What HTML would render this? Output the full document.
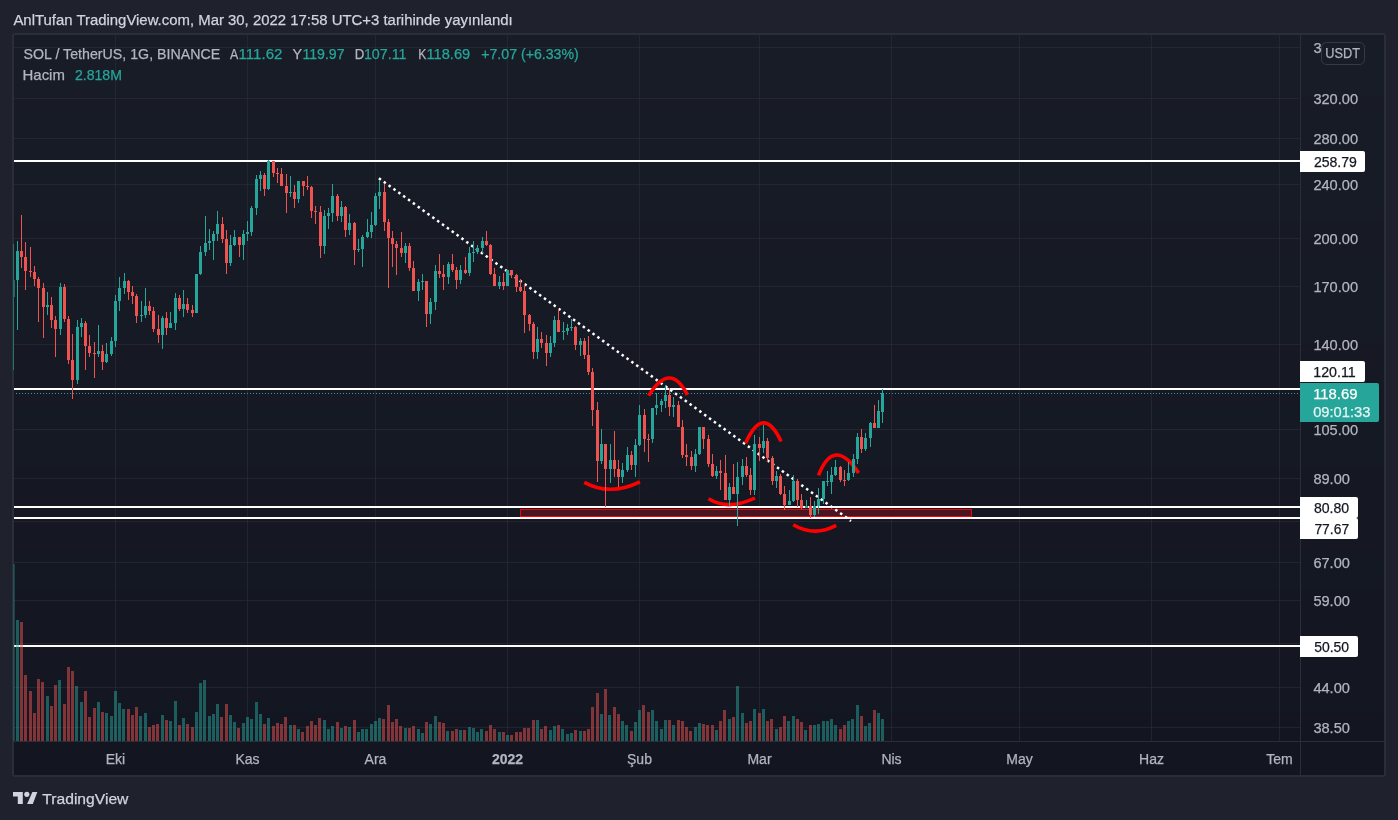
<!DOCTYPE html><html><head><meta charset="utf-8"><style>
html,body{margin:0;padding:0;width:1398px;height:820px;overflow:hidden;background:#1f222d}
svg{position:absolute;left:0;top:0;font-family:"Liberation Sans",sans-serif;will-change:transform}
text{stroke:currentColor;stroke-width:0.25px}
</style></head><body>
<svg width="1398" height="820" viewBox="0 0 1398 820">
<rect x="12" y="33" width="1374" height="744" rx="3" fill="#2a2e39"/>
<rect x="14" y="35" width="1370" height="53" fill="#181c27" shape-rendering="crispEdges"/>
<rect x="14" y="88" width="1370" height="9" fill="#181c26" shape-rendering="crispEdges"/>
<rect x="14" y="97" width="1370" height="12" fill="#181b26" shape-rendering="crispEdges"/>
<rect x="14" y="109" width="1370" height="85" fill="#171b26" shape-rendering="crispEdges"/>
<rect x="14" y="194" width="1370" height="26" fill="#171b25" shape-rendering="crispEdges"/>
<rect x="14" y="220" width="1370" height="37" fill="#171a25" shape-rendering="crispEdges"/>
<rect x="14" y="257" width="1370" height="42" fill="#161a25" shape-rendering="crispEdges"/>
<rect x="14" y="299" width="1370" height="44" fill="#161a24" shape-rendering="crispEdges"/>
<rect x="14" y="343" width="1370" height="62" fill="#161924" shape-rendering="crispEdges"/>
<rect x="14" y="405" width="1370" height="62" fill="#151923" shape-rendering="crispEdges"/>
<rect x="14" y="467" width="1370" height="44" fill="#151823" shape-rendering="crispEdges"/>
<rect x="14" y="511" width="1370" height="42" fill="#151822" shape-rendering="crispEdges"/>
<rect x="14" y="553" width="1370" height="37" fill="#141822" shape-rendering="crispEdges"/>
<rect x="14" y="590" width="1370" height="26" fill="#141722" shape-rendering="crispEdges"/>
<rect x="14" y="616" width="1370" height="85" fill="#141721" shape-rendering="crispEdges"/>
<rect x="14" y="701" width="1370" height="12" fill="#131721" shape-rendering="crispEdges"/>
<rect x="14" y="713" width="1370" height="9" fill="#131621" shape-rendering="crispEdges"/>
<rect x="14" y="722" width="1370" height="53" fill="#131620" shape-rendering="crispEdges"/>
<g shape-rendering="crispEdges">
<rect x="14" y="47" width="1286" height="1" fill="rgba(42,46,57,0.6)"/>
<rect x="14" y="98" width="1286" height="1" fill="rgba(42,46,57,0.6)"/>
<rect x="14" y="138" width="1286" height="1" fill="rgba(42,46,57,0.6)"/>
<rect x="14" y="184" width="1286" height="1" fill="rgba(42,46,57,0.6)"/>
<rect x="14" y="238" width="1286" height="1" fill="rgba(42,46,57,0.6)"/>
<rect x="14" y="286" width="1286" height="1" fill="rgba(42,46,57,0.6)"/>
<rect x="14" y="344" width="1286" height="1" fill="rgba(42,46,57,0.6)"/>
<rect x="14" y="389" width="1286" height="1" fill="rgba(42,46,57,0.6)"/>
<rect x="14" y="429" width="1286" height="1" fill="rgba(42,46,57,0.6)"/>
<rect x="14" y="478" width="1286" height="1" fill="rgba(42,46,57,0.6)"/>
<rect x="14" y="521" width="1286" height="1" fill="rgba(42,46,57,0.6)"/>
<rect x="14" y="562" width="1286" height="1" fill="rgba(42,46,57,0.6)"/>
<rect x="14" y="600" width="1286" height="1" fill="rgba(42,46,57,0.6)"/>
<rect x="14" y="643" width="1286" height="1" fill="rgba(42,46,57,0.6)"/>
<rect x="14" y="687" width="1286" height="1" fill="rgba(42,46,57,0.6)"/>
<rect x="14" y="727" width="1286" height="1" fill="rgba(42,46,57,0.6)"/>
<rect x="115" y="35" width="1" height="706" fill="rgba(42,46,57,0.6)"/>
<rect x="247" y="35" width="1" height="706" fill="rgba(42,46,57,0.6)"/>
<rect x="375" y="35" width="1" height="706" fill="rgba(42,46,57,0.6)"/>
<rect x="507" y="35" width="1" height="706" fill="rgba(42,46,57,0.6)"/>
<rect x="639" y="35" width="1" height="706" fill="rgba(42,46,57,0.6)"/>
<rect x="759" y="35" width="1" height="706" fill="rgba(42,46,57,0.6)"/>
<rect x="891" y="35" width="1" height="706" fill="rgba(42,46,57,0.6)"/>
<rect x="1019" y="35" width="1" height="706" fill="rgba(42,46,57,0.6)"/>
<rect x="1151" y="35" width="1" height="706" fill="rgba(42,46,57,0.6)"/>
<rect x="1279" y="35" width="1" height="706" fill="rgba(42,46,57,0.6)"/>
<rect x="1300" y="35" width="1" height="740" fill="#2a2e39"/>
<rect x="14" y="741" width="1370" height="1" fill="#2a2e39"/>
</g>
<defs><clipPath id="cp"><rect x="13" y="35" width="1287" height="706"/></clipPath><clipPath id="cp2"><rect x="14" y="35" width="1286" height="706"/></clipPath></defs>
<g clip-path="url(#cp2)">
<g shape-rendering="crispEdges">
<rect x="13" y="160" width="1287" height="2" fill="#ffffff"/>
<rect x="13" y="388" width="1287" height="2" fill="#ffffff"/>
<rect x="13" y="506" width="1287" height="2" fill="#ffffff"/>
<rect x="13" y="517" width="1287" height="2" fill="#ffffff"/>
<rect x="13" y="645" width="1287" height="2" fill="#ffffff"/>
<line x1="13" y1="393.5" x2="1300" y2="393.5" stroke="#26a69a" stroke-width="1" stroke-dasharray="1 2"/>
<rect x="520.5" y="509.5" width="451" height="7" fill="#4a1520" stroke="#ff0000" stroke-width="1"/>
</g>
<line x1="378.9" y1="178.2" x2="851" y2="521" stroke="#ffffff" stroke-width="2.5" stroke-dasharray="2.5 3.5"/>
<path d="M584.3 482.4 Q609.9 496.5 639.9 481.8" fill="none" stroke="#ff0000" stroke-width="3.6"/>
<path d="M648.7 395.6 Q670.2 360.8 687.4 394.9" fill="none" stroke="#ff0000" stroke-width="3.6"/>
<path d="M708.5 498.8 Q728.2 510.8 755.0 498.0" fill="none" stroke="#ff0000" stroke-width="3.6"/>
<path d="M745.7 442.9 Q763.2 403.6 781.1 441.4" fill="none" stroke="#ff0000" stroke-width="3.6"/>
<path d="M793.3 524.7 Q814.0 537.2 836.2 525.4" fill="none" stroke="#ff0000" stroke-width="3.6"/>
<path d="M818.5 475.4 Q833.9 435.9 858.6 472.9" fill="none" stroke="#ff0000" stroke-width="3.6"/>
</g>
<g clip-path="url(#cp)" shape-rendering="crispEdges">
<rect x="12" y="564" width="3" height="177" fill="rgba(38,166,154,0.5)" opacity="0.6"/>
<rect x="16" y="620" width="3" height="121" fill="rgba(38,166,154,0.5)"/>
<rect x="20" y="622" width="3" height="119" fill="rgba(239,83,80,0.5)"/>
<rect x="24" y="675" width="3" height="66" fill="rgba(239,83,80,0.5)"/>
<rect x="29" y="691" width="3" height="50" fill="rgba(239,83,80,0.5)"/>
<rect x="33" y="713" width="3" height="28" fill="rgba(239,83,80,0.5)"/>
<rect x="37" y="679" width="3" height="62" fill="rgba(239,83,80,0.5)"/>
<rect x="41" y="682" width="3" height="59" fill="rgba(239,83,80,0.5)"/>
<rect x="46" y="696" width="3" height="45" fill="rgba(38,166,154,0.5)"/>
<rect x="50" y="706" width="3" height="35" fill="rgba(239,83,80,0.5)"/>
<rect x="54" y="685" width="3" height="56" fill="rgba(239,83,80,0.5)"/>
<rect x="58" y="680" width="3" height="61" fill="rgba(38,166,154,0.5)"/>
<rect x="63" y="704" width="3" height="37" fill="rgba(239,83,80,0.5)"/>
<rect x="67" y="667" width="3" height="74" fill="rgba(239,83,80,0.5)"/>
<rect x="71" y="671" width="3" height="70" fill="rgba(239,83,80,0.5)"/>
<rect x="75" y="686" width="3" height="55" fill="rgba(38,166,154,0.5)"/>
<rect x="80" y="702" width="3" height="39" fill="rgba(38,166,154,0.5)"/>
<rect x="84" y="691" width="3" height="50" fill="rgba(239,83,80,0.5)"/>
<rect x="88" y="717" width="3" height="24" fill="rgba(239,83,80,0.5)"/>
<rect x="93" y="708" width="3" height="33" fill="rgba(239,83,80,0.5)"/>
<rect x="97" y="702" width="3" height="39" fill="rgba(38,166,154,0.5)"/>
<rect x="101" y="712" width="3" height="29" fill="rgba(239,83,80,0.5)"/>
<rect x="105" y="713" width="3" height="28" fill="rgba(38,166,154,0.5)"/>
<rect x="110" y="716" width="3" height="25" fill="rgba(38,166,154,0.5)"/>
<rect x="114" y="691" width="3" height="50" fill="rgba(38,166,154,0.5)"/>
<rect x="118" y="703" width="3" height="38" fill="rgba(38,166,154,0.5)"/>
<rect x="122" y="709" width="3" height="32" fill="rgba(38,166,154,0.5)"/>
<rect x="127" y="709" width="3" height="32" fill="rgba(239,83,80,0.5)"/>
<rect x="131" y="715" width="3" height="26" fill="rgba(239,83,80,0.5)"/>
<rect x="135" y="707" width="3" height="34" fill="rgba(239,83,80,0.5)"/>
<rect x="139" y="716" width="3" height="25" fill="rgba(38,166,154,0.5)"/>
<rect x="144" y="713" width="3" height="28" fill="rgba(38,166,154,0.5)"/>
<rect x="148" y="727" width="3" height="14" fill="rgba(239,83,80,0.5)"/>
<rect x="152" y="725" width="3" height="16" fill="rgba(239,83,80,0.5)"/>
<rect x="156" y="724" width="3" height="17" fill="rgba(239,83,80,0.5)"/>
<rect x="161" y="715" width="3" height="26" fill="rgba(38,166,154,0.5)"/>
<rect x="165" y="720" width="3" height="21" fill="rgba(239,83,80,0.5)"/>
<rect x="169" y="721" width="3" height="20" fill="rgba(38,166,154,0.5)"/>
<rect x="174" y="701" width="3" height="40" fill="rgba(38,166,154,0.5)"/>
<rect x="178" y="725" width="3" height="16" fill="rgba(239,83,80,0.5)"/>
<rect x="182" y="718" width="3" height="23" fill="rgba(38,166,154,0.5)"/>
<rect x="186" y="724" width="3" height="17" fill="rgba(239,83,80,0.5)"/>
<rect x="191" y="727" width="3" height="14" fill="rgba(239,83,80,0.5)"/>
<rect x="195" y="712" width="3" height="29" fill="rgba(38,166,154,0.5)"/>
<rect x="199" y="683" width="3" height="58" fill="rgba(38,166,154,0.5)"/>
<rect x="203" y="680" width="3" height="61" fill="rgba(38,166,154,0.5)"/>
<rect x="208" y="716" width="3" height="25" fill="rgba(38,166,154,0.5)"/>
<rect x="212" y="714" width="3" height="27" fill="rgba(38,166,154,0.5)"/>
<rect x="216" y="704" width="3" height="37" fill="rgba(38,166,154,0.5)"/>
<rect x="220" y="717" width="3" height="24" fill="rgba(239,83,80,0.5)"/>
<rect x="225" y="704" width="3" height="37" fill="rgba(239,83,80,0.5)"/>
<rect x="229" y="715" width="3" height="26" fill="rgba(38,166,154,0.5)"/>
<rect x="233" y="722" width="3" height="19" fill="rgba(38,166,154,0.5)"/>
<rect x="237" y="728" width="3" height="13" fill="rgba(239,83,80,0.5)"/>
<rect x="242" y="723" width="3" height="18" fill="rgba(38,166,154,0.5)"/>
<rect x="246" y="717" width="3" height="24" fill="rgba(38,166,154,0.5)"/>
<rect x="250" y="719" width="3" height="22" fill="rgba(38,166,154,0.5)"/>
<rect x="255" y="702" width="3" height="39" fill="rgba(38,166,154,0.5)"/>
<rect x="259" y="714" width="3" height="27" fill="rgba(38,166,154,0.5)"/>
<rect x="263" y="724" width="3" height="17" fill="rgba(239,83,80,0.5)"/>
<rect x="267" y="718" width="3" height="23" fill="rgba(38,166,154,0.5)"/>
<rect x="272" y="726" width="3" height="15" fill="rgba(239,83,80,0.5)"/>
<rect x="276" y="723" width="3" height="18" fill="rgba(239,83,80,0.5)"/>
<rect x="280" y="724" width="3" height="17" fill="rgba(239,83,80,0.5)"/>
<rect x="284" y="717" width="3" height="24" fill="rgba(239,83,80,0.5)"/>
<rect x="289" y="725" width="3" height="16" fill="rgba(38,166,154,0.5)"/>
<rect x="293" y="725" width="3" height="16" fill="rgba(239,83,80,0.5)"/>
<rect x="297" y="729" width="3" height="12" fill="rgba(38,166,154,0.5)"/>
<rect x="301" y="732" width="3" height="9" fill="rgba(239,83,80,0.5)"/>
<rect x="306" y="726" width="3" height="15" fill="rgba(239,83,80,0.5)"/>
<rect x="310" y="721" width="3" height="20" fill="rgba(239,83,80,0.5)"/>
<rect x="314" y="725" width="3" height="16" fill="rgba(239,83,80,0.5)"/>
<rect x="318" y="718" width="3" height="23" fill="rgba(239,83,80,0.5)"/>
<rect x="323" y="720" width="3" height="21" fill="rgba(38,166,154,0.5)"/>
<rect x="327" y="729" width="3" height="12" fill="rgba(38,166,154,0.5)"/>
<rect x="331" y="726" width="3" height="15" fill="rgba(38,166,154,0.5)"/>
<rect x="336" y="722" width="3" height="19" fill="rgba(239,83,80,0.5)"/>
<rect x="340" y="728" width="3" height="13" fill="rgba(38,166,154,0.5)"/>
<rect x="344" y="726" width="3" height="15" fill="rgba(239,83,80,0.5)"/>
<rect x="348" y="727" width="3" height="14" fill="rgba(38,166,154,0.5)"/>
<rect x="353" y="720" width="3" height="21" fill="rgba(239,83,80,0.5)"/>
<rect x="357" y="732" width="3" height="9" fill="rgba(38,166,154,0.5)"/>
<rect x="361" y="729" width="3" height="12" fill="rgba(38,166,154,0.5)"/>
<rect x="365" y="729" width="3" height="12" fill="rgba(38,166,154,0.5)"/>
<rect x="370" y="724" width="3" height="17" fill="rgba(38,166,154,0.5)"/>
<rect x="374" y="721" width="3" height="20" fill="rgba(38,166,154,0.5)"/>
<rect x="378" y="718" width="3" height="23" fill="rgba(38,166,154,0.5)"/>
<rect x="382" y="719" width="3" height="22" fill="rgba(239,83,80,0.5)"/>
<rect x="387" y="705" width="3" height="36" fill="rgba(239,83,80,0.5)"/>
<rect x="391" y="722" width="3" height="19" fill="rgba(239,83,80,0.5)"/>
<rect x="395" y="719" width="3" height="22" fill="rgba(239,83,80,0.5)"/>
<rect x="399" y="726" width="3" height="15" fill="rgba(239,83,80,0.5)"/>
<rect x="404" y="728" width="3" height="13" fill="rgba(38,166,154,0.5)"/>
<rect x="408" y="728" width="3" height="13" fill="rgba(239,83,80,0.5)"/>
<rect x="412" y="726" width="3" height="15" fill="rgba(239,83,80,0.5)"/>
<rect x="417" y="729" width="3" height="12" fill="rgba(38,166,154,0.5)"/>
<rect x="421" y="733" width="3" height="8" fill="rgba(38,166,154,0.5)"/>
<rect x="425" y="722" width="3" height="19" fill="rgba(239,83,80,0.5)"/>
<rect x="429" y="724" width="3" height="17" fill="rgba(38,166,154,0.5)"/>
<rect x="434" y="716" width="3" height="25" fill="rgba(38,166,154,0.5)"/>
<rect x="438" y="722" width="3" height="19" fill="rgba(239,83,80,0.5)"/>
<rect x="442" y="723" width="3" height="18" fill="rgba(239,83,80,0.5)"/>
<rect x="446" y="731" width="3" height="10" fill="rgba(38,166,154,0.5)"/>
<rect x="451" y="731" width="3" height="10" fill="rgba(239,83,80,0.5)"/>
<rect x="455" y="729" width="3" height="12" fill="rgba(239,83,80,0.5)"/>
<rect x="459" y="730" width="3" height="11" fill="rgba(38,166,154,0.5)"/>
<rect x="463" y="730" width="3" height="11" fill="rgba(239,83,80,0.5)"/>
<rect x="468" y="727" width="3" height="14" fill="rgba(38,166,154,0.5)"/>
<rect x="472" y="728" width="3" height="13" fill="rgba(38,166,154,0.5)"/>
<rect x="476" y="732" width="3" height="9" fill="rgba(38,166,154,0.5)"/>
<rect x="480" y="729" width="3" height="12" fill="rgba(38,166,154,0.5)"/>
<rect x="485" y="731" width="3" height="10" fill="rgba(239,83,80,0.5)"/>
<rect x="489" y="725" width="3" height="16" fill="rgba(239,83,80,0.5)"/>
<rect x="493" y="729" width="3" height="12" fill="rgba(239,83,80,0.5)"/>
<rect x="498" y="732" width="3" height="9" fill="rgba(38,166,154,0.5)"/>
<rect x="502" y="732" width="3" height="9" fill="rgba(239,83,80,0.5)"/>
<rect x="506" y="735" width="3" height="6" fill="rgba(38,166,154,0.5)"/>
<rect x="510" y="735" width="3" height="6" fill="rgba(239,83,80,0.5)"/>
<rect x="515" y="732" width="3" height="9" fill="rgba(239,83,80,0.5)"/>
<rect x="519" y="732" width="3" height="9" fill="rgba(239,83,80,0.5)"/>
<rect x="523" y="728" width="3" height="13" fill="rgba(239,83,80,0.5)"/>
<rect x="527" y="728" width="3" height="13" fill="rgba(239,83,80,0.5)"/>
<rect x="532" y="720" width="3" height="21" fill="rgba(239,83,80,0.5)"/>
<rect x="536" y="720" width="3" height="21" fill="rgba(38,166,154,0.5)"/>
<rect x="540" y="729" width="3" height="12" fill="rgba(239,83,80,0.5)"/>
<rect x="544" y="726" width="3" height="15" fill="rgba(239,83,80,0.5)"/>
<rect x="549" y="730" width="3" height="11" fill="rgba(38,166,154,0.5)"/>
<rect x="553" y="726" width="3" height="15" fill="rgba(38,166,154,0.5)"/>
<rect x="557" y="725" width="3" height="16" fill="rgba(239,83,80,0.5)"/>
<rect x="561" y="729" width="3" height="12" fill="rgba(38,166,154,0.5)"/>
<rect x="566" y="734" width="3" height="7" fill="rgba(38,166,154,0.5)"/>
<rect x="570" y="733" width="3" height="8" fill="rgba(38,166,154,0.5)"/>
<rect x="574" y="730" width="3" height="11" fill="rgba(239,83,80,0.5)"/>
<rect x="579" y="731" width="3" height="10" fill="rgba(38,166,154,0.5)"/>
<rect x="583" y="731" width="3" height="10" fill="rgba(239,83,80,0.5)"/>
<rect x="587" y="729" width="3" height="12" fill="rgba(239,83,80,0.5)"/>
<rect x="591" y="707" width="3" height="34" fill="rgba(239,83,80,0.5)"/>
<rect x="596" y="693" width="3" height="48" fill="rgba(239,83,80,0.5)"/>
<rect x="600" y="714" width="3" height="27" fill="rgba(38,166,154,0.5)"/>
<rect x="604" y="689" width="3" height="52" fill="rgba(239,83,80,0.5)"/>
<rect x="608" y="715" width="3" height="26" fill="rgba(38,166,154,0.5)"/>
<rect x="613" y="707" width="3" height="34" fill="rgba(239,83,80,0.5)"/>
<rect x="617" y="714" width="3" height="27" fill="rgba(239,83,80,0.5)"/>
<rect x="621" y="721" width="3" height="20" fill="rgba(38,166,154,0.5)"/>
<rect x="625" y="725" width="3" height="16" fill="rgba(38,166,154,0.5)"/>
<rect x="630" y="731" width="3" height="10" fill="rgba(239,83,80,0.5)"/>
<rect x="634" y="722" width="3" height="19" fill="rgba(38,166,154,0.5)"/>
<rect x="638" y="710" width="3" height="31" fill="rgba(38,166,154,0.5)"/>
<rect x="642" y="705" width="3" height="36" fill="rgba(239,83,80,0.5)"/>
<rect x="647" y="712" width="3" height="29" fill="rgba(239,83,80,0.5)"/>
<rect x="651" y="710" width="3" height="31" fill="rgba(38,166,154,0.5)"/>
<rect x="655" y="721" width="3" height="20" fill="rgba(38,166,154,0.5)"/>
<rect x="660" y="729" width="3" height="12" fill="rgba(38,166,154,0.5)"/>
<rect x="664" y="720" width="3" height="21" fill="rgba(38,166,154,0.5)"/>
<rect x="668" y="720" width="3" height="21" fill="rgba(239,83,80,0.5)"/>
<rect x="672" y="725" width="3" height="16" fill="rgba(38,166,154,0.5)"/>
<rect x="677" y="720" width="3" height="21" fill="rgba(239,83,80,0.5)"/>
<rect x="681" y="721" width="3" height="20" fill="rgba(239,83,80,0.5)"/>
<rect x="685" y="727" width="3" height="14" fill="rgba(239,83,80,0.5)"/>
<rect x="689" y="731" width="3" height="10" fill="rgba(239,83,80,0.5)"/>
<rect x="694" y="727" width="3" height="14" fill="rgba(38,166,154,0.5)"/>
<rect x="698" y="723" width="3" height="18" fill="rgba(38,166,154,0.5)"/>
<rect x="702" y="724" width="3" height="17" fill="rgba(239,83,80,0.5)"/>
<rect x="706" y="725" width="3" height="16" fill="rgba(239,83,80,0.5)"/>
<rect x="711" y="725" width="3" height="16" fill="rgba(239,83,80,0.5)"/>
<rect x="715" y="730" width="3" height="11" fill="rgba(38,166,154,0.5)"/>
<rect x="719" y="721" width="3" height="20" fill="rgba(239,83,80,0.5)"/>
<rect x="723" y="710" width="3" height="31" fill="rgba(239,83,80,0.5)"/>
<rect x="728" y="719" width="3" height="22" fill="rgba(38,166,154,0.5)"/>
<rect x="732" y="717" width="3" height="24" fill="rgba(239,83,80,0.5)"/>
<rect x="736" y="686" width="3" height="55" fill="rgba(38,166,154,0.5)"/>
<rect x="741" y="713" width="3" height="28" fill="rgba(38,166,154,0.5)"/>
<rect x="745" y="723" width="3" height="18" fill="rgba(239,83,80,0.5)"/>
<rect x="749" y="721" width="3" height="20" fill="rgba(239,83,80,0.5)"/>
<rect x="753" y="709" width="3" height="32" fill="rgba(38,166,154,0.5)"/>
<rect x="758" y="713" width="3" height="28" fill="rgba(239,83,80,0.5)"/>
<rect x="762" y="709" width="3" height="32" fill="rgba(38,166,154,0.5)"/>
<rect x="766" y="721" width="3" height="20" fill="rgba(239,83,80,0.5)"/>
<rect x="770" y="719" width="3" height="22" fill="rgba(239,83,80,0.5)"/>
<rect x="775" y="729" width="3" height="12" fill="rgba(38,166,154,0.5)"/>
<rect x="779" y="727" width="3" height="14" fill="rgba(239,83,80,0.5)"/>
<rect x="783" y="716" width="3" height="25" fill="rgba(239,83,80,0.5)"/>
<rect x="787" y="721" width="3" height="20" fill="rgba(38,166,154,0.5)"/>
<rect x="792" y="716" width="3" height="25" fill="rgba(38,166,154,0.5)"/>
<rect x="796" y="719" width="3" height="22" fill="rgba(239,83,80,0.5)"/>
<rect x="800" y="722" width="3" height="19" fill="rgba(239,83,80,0.5)"/>
<rect x="804" y="730" width="3" height="11" fill="rgba(38,166,154,0.5)"/>
<rect x="809" y="725" width="3" height="16" fill="rgba(239,83,80,0.5)"/>
<rect x="813" y="725" width="3" height="16" fill="rgba(38,166,154,0.5)"/>
<rect x="817" y="724" width="3" height="17" fill="rgba(38,166,154,0.5)"/>
<rect x="822" y="721" width="3" height="20" fill="rgba(38,166,154,0.5)"/>
<rect x="826" y="721" width="3" height="20" fill="rgba(38,166,154,0.5)"/>
<rect x="830" y="719" width="3" height="22" fill="rgba(38,166,154,0.5)"/>
<rect x="834" y="725" width="3" height="16" fill="rgba(38,166,154,0.5)"/>
<rect x="839" y="729" width="3" height="12" fill="rgba(239,83,80,0.5)"/>
<rect x="843" y="725" width="3" height="16" fill="rgba(239,83,80,0.5)"/>
<rect x="847" y="721" width="3" height="20" fill="rgba(38,166,154,0.5)"/>
<rect x="851" y="719" width="3" height="22" fill="rgba(38,166,154,0.5)"/>
<rect x="856" y="705" width="3" height="36" fill="rgba(38,166,154,0.5)"/>
<rect x="860" y="716" width="3" height="25" fill="rgba(239,83,80,0.5)"/>
<rect x="864" y="726" width="3" height="15" fill="rgba(38,166,154,0.5)"/>
<rect x="868" y="723" width="3" height="18" fill="rgba(38,166,154,0.5)"/>
<rect x="873" y="710" width="3" height="31" fill="rgba(239,83,80,0.5)"/>
<rect x="877" y="713" width="3" height="28" fill="rgba(38,166,154,0.5)"/>
<rect x="881" y="719" width="3" height="22" fill="rgba(38,166,154,0.5)"/>
<g opacity="0.55">
<rect x="13" y="244" width="1" height="126" fill="#26a69a"/>
<rect x="12" y="280" width="3" height="17" fill="#26a69a"/>
</g>
<rect x="17" y="241" width="1" height="89" fill="#26a69a"/>
<rect x="16" y="251" width="3" height="29" fill="#26a69a"/>
<rect x="21" y="215" width="1" height="53" fill="#ef5350"/>
<rect x="20" y="251" width="3" height="6" fill="#ef5350"/>
<rect x="25" y="242" width="1" height="48" fill="#ef5350"/>
<rect x="24" y="257" width="3" height="14" fill="#ef5350"/>
<rect x="30" y="247" width="1" height="30" fill="#ef5350"/>
<rect x="29" y="271" width="3" height="1" fill="#ef5350"/>
<rect x="34" y="266" width="1" height="20" fill="#ef5350"/>
<rect x="33" y="272" width="3" height="7" fill="#ef5350"/>
<rect x="38" y="277" width="1" height="45" fill="#ef5350"/>
<rect x="37" y="279" width="3" height="9" fill="#ef5350"/>
<rect x="43" y="283" width="1" height="55" fill="#ef5350"/>
<rect x="42" y="288" width="3" height="19" fill="#ef5350"/>
<rect x="47" y="292" width="1" height="23" fill="#26a69a"/>
<rect x="46" y="305" width="3" height="2" fill="#26a69a"/>
<rect x="51" y="297" width="1" height="31" fill="#ef5350"/>
<rect x="50" y="305" width="3" height="15" fill="#ef5350"/>
<rect x="55" y="316" width="1" height="41" fill="#ef5350"/>
<rect x="54" y="320" width="3" height="9" fill="#ef5350"/>
<rect x="60" y="283" width="1" height="52" fill="#26a69a"/>
<rect x="59" y="287" width="3" height="42" fill="#26a69a"/>
<rect x="64" y="284" width="1" height="38" fill="#ef5350"/>
<rect x="63" y="287" width="3" height="32" fill="#ef5350"/>
<rect x="68" y="316" width="1" height="48" fill="#ef5350"/>
<rect x="67" y="319" width="3" height="41" fill="#ef5350"/>
<rect x="72" y="334" width="1" height="65" fill="#ef5350"/>
<rect x="71" y="360" width="3" height="20" fill="#ef5350"/>
<rect x="77" y="320" width="1" height="64" fill="#26a69a"/>
<rect x="76" y="327" width="3" height="53" fill="#26a69a"/>
<rect x="81" y="318" width="1" height="19" fill="#26a69a"/>
<rect x="80" y="323" width="3" height="4" fill="#26a69a"/>
<rect x="85" y="321" width="1" height="49" fill="#ef5350"/>
<rect x="84" y="323" width="3" height="23" fill="#ef5350"/>
<rect x="89" y="335" width="1" height="22" fill="#ef5350"/>
<rect x="88" y="346" width="3" height="7" fill="#ef5350"/>
<rect x="94" y="342" width="1" height="36" fill="#ef5350"/>
<rect x="93" y="353" width="3" height="1" fill="#ef5350"/>
<rect x="98" y="325" width="1" height="32" fill="#26a69a"/>
<rect x="97" y="351" width="3" height="3" fill="#26a69a"/>
<rect x="102" y="345" width="1" height="25" fill="#ef5350"/>
<rect x="101" y="351" width="3" height="11" fill="#ef5350"/>
<rect x="106" y="343" width="1" height="20" fill="#26a69a"/>
<rect x="105" y="354" width="3" height="8" fill="#26a69a"/>
<rect x="111" y="337" width="1" height="19" fill="#26a69a"/>
<rect x="110" y="341" width="3" height="13" fill="#26a69a"/>
<rect x="115" y="295" width="1" height="52" fill="#26a69a"/>
<rect x="114" y="301" width="3" height="40" fill="#26a69a"/>
<rect x="119" y="277" width="1" height="34" fill="#26a69a"/>
<rect x="118" y="288" width="3" height="13" fill="#26a69a"/>
<rect x="124" y="273" width="1" height="21" fill="#26a69a"/>
<rect x="123" y="281" width="3" height="7" fill="#26a69a"/>
<rect x="128" y="280" width="1" height="20" fill="#ef5350"/>
<rect x="127" y="281" width="3" height="11" fill="#ef5350"/>
<rect x="132" y="286" width="1" height="18" fill="#ef5350"/>
<rect x="131" y="292" width="3" height="4" fill="#ef5350"/>
<rect x="136" y="294" width="1" height="29" fill="#ef5350"/>
<rect x="135" y="296" width="3" height="20" fill="#ef5350"/>
<rect x="141" y="301" width="1" height="21" fill="#26a69a"/>
<rect x="140" y="315" width="3" height="1" fill="#26a69a"/>
<rect x="145" y="288" width="1" height="30" fill="#26a69a"/>
<rect x="144" y="306" width="3" height="9" fill="#26a69a"/>
<rect x="149" y="301" width="1" height="14" fill="#ef5350"/>
<rect x="148" y="306" width="3" height="5" fill="#ef5350"/>
<rect x="153" y="307" width="1" height="25" fill="#ef5350"/>
<rect x="152" y="311" width="3" height="18" fill="#ef5350"/>
<rect x="158" y="315" width="1" height="28" fill="#ef5350"/>
<rect x="157" y="329" width="3" height="6" fill="#ef5350"/>
<rect x="162" y="316" width="1" height="33" fill="#26a69a"/>
<rect x="161" y="318" width="3" height="17" fill="#26a69a"/>
<rect x="166" y="312" width="1" height="23" fill="#ef5350"/>
<rect x="165" y="318" width="3" height="10" fill="#ef5350"/>
<rect x="170" y="312" width="1" height="16" fill="#26a69a"/>
<rect x="169" y="323" width="3" height="5" fill="#26a69a"/>
<rect x="175" y="293" width="1" height="37" fill="#26a69a"/>
<rect x="174" y="298" width="3" height="25" fill="#26a69a"/>
<rect x="179" y="295" width="1" height="16" fill="#ef5350"/>
<rect x="178" y="298" width="3" height="11" fill="#ef5350"/>
<rect x="183" y="290" width="1" height="27" fill="#26a69a"/>
<rect x="182" y="304" width="3" height="5" fill="#26a69a"/>
<rect x="187" y="298" width="1" height="15" fill="#ef5350"/>
<rect x="186" y="304" width="3" height="6" fill="#ef5350"/>
<rect x="192" y="305" width="1" height="12" fill="#ef5350"/>
<rect x="191" y="310" width="3" height="3" fill="#ef5350"/>
<rect x="196" y="274" width="1" height="39" fill="#26a69a"/>
<rect x="195" y="274" width="3" height="39" fill="#26a69a"/>
<rect x="200" y="246" width="1" height="29" fill="#26a69a"/>
<rect x="199" y="252" width="3" height="22" fill="#26a69a"/>
<rect x="205" y="216" width="1" height="40" fill="#26a69a"/>
<rect x="204" y="243" width="3" height="9" fill="#26a69a"/>
<rect x="209" y="229" width="1" height="21" fill="#26a69a"/>
<rect x="208" y="241" width="3" height="2" fill="#26a69a"/>
<rect x="213" y="231" width="1" height="29" fill="#26a69a"/>
<rect x="212" y="234" width="3" height="7" fill="#26a69a"/>
<rect x="217" y="211" width="1" height="30" fill="#26a69a"/>
<rect x="216" y="224" width="3" height="10" fill="#26a69a"/>
<rect x="222" y="217" width="1" height="26" fill="#ef5350"/>
<rect x="221" y="224" width="3" height="15" fill="#ef5350"/>
<rect x="226" y="230" width="1" height="44" fill="#ef5350"/>
<rect x="225" y="239" width="3" height="24" fill="#ef5350"/>
<rect x="230" y="235" width="1" height="31" fill="#26a69a"/>
<rect x="229" y="245" width="3" height="18" fill="#26a69a"/>
<rect x="234" y="230" width="1" height="16" fill="#26a69a"/>
<rect x="233" y="237" width="3" height="8" fill="#26a69a"/>
<rect x="239" y="237" width="1" height="20" fill="#ef5350"/>
<rect x="238" y="237" width="3" height="8" fill="#ef5350"/>
<rect x="243" y="230" width="1" height="30" fill="#26a69a"/>
<rect x="242" y="234" width="3" height="11" fill="#26a69a"/>
<rect x="247" y="221" width="1" height="20" fill="#26a69a"/>
<rect x="246" y="232" width="3" height="2" fill="#26a69a"/>
<rect x="251" y="206" width="1" height="30" fill="#26a69a"/>
<rect x="250" y="208" width="3" height="24" fill="#26a69a"/>
<rect x="256" y="175" width="1" height="40" fill="#26a69a"/>
<rect x="255" y="179" width="3" height="29" fill="#26a69a"/>
<rect x="260" y="171" width="1" height="20" fill="#26a69a"/>
<rect x="259" y="175" width="3" height="4" fill="#26a69a"/>
<rect x="264" y="173" width="1" height="23" fill="#ef5350"/>
<rect x="263" y="175" width="3" height="14" fill="#ef5350"/>
<rect x="268" y="160" width="1" height="30" fill="#26a69a"/>
<rect x="267" y="161" width="3" height="28" fill="#26a69a"/>
<rect x="273" y="161" width="1" height="16" fill="#ef5350"/>
<rect x="272" y="161" width="3" height="12" fill="#ef5350"/>
<rect x="277" y="168" width="1" height="15" fill="#ef5350"/>
<rect x="276" y="173" width="3" height="1" fill="#ef5350"/>
<rect x="281" y="168" width="1" height="18" fill="#ef5350"/>
<rect x="280" y="174" width="3" height="12" fill="#ef5350"/>
<rect x="286" y="174" width="1" height="39" fill="#ef5350"/>
<rect x="285" y="186" width="3" height="7" fill="#ef5350"/>
<rect x="290" y="176" width="1" height="21" fill="#26a69a"/>
<rect x="289" y="192" width="3" height="1" fill="#26a69a"/>
<rect x="294" y="185" width="1" height="23" fill="#ef5350"/>
<rect x="293" y="192" width="3" height="7" fill="#ef5350"/>
<rect x="298" y="181" width="1" height="22" fill="#26a69a"/>
<rect x="297" y="181" width="3" height="18" fill="#26a69a"/>
<rect x="303" y="181" width="1" height="15" fill="#ef5350"/>
<rect x="302" y="181" width="3" height="5" fill="#ef5350"/>
<rect x="307" y="176" width="1" height="14" fill="#ef5350"/>
<rect x="306" y="186" width="3" height="1" fill="#ef5350"/>
<rect x="311" y="186" width="1" height="32" fill="#ef5350"/>
<rect x="310" y="187" width="3" height="24" fill="#ef5350"/>
<rect x="315" y="206" width="1" height="18" fill="#ef5350"/>
<rect x="314" y="211" width="3" height="1" fill="#ef5350"/>
<rect x="320" y="206" width="1" height="52" fill="#ef5350"/>
<rect x="319" y="212" width="3" height="34" fill="#ef5350"/>
<rect x="324" y="210" width="1" height="44" fill="#26a69a"/>
<rect x="323" y="216" width="3" height="30" fill="#26a69a"/>
<rect x="328" y="208" width="1" height="21" fill="#26a69a"/>
<rect x="327" y="213" width="3" height="3" fill="#26a69a"/>
<rect x="332" y="184" width="1" height="38" fill="#26a69a"/>
<rect x="331" y="196" width="3" height="17" fill="#26a69a"/>
<rect x="337" y="194" width="1" height="27" fill="#ef5350"/>
<rect x="336" y="196" width="3" height="20" fill="#ef5350"/>
<rect x="341" y="201" width="1" height="21" fill="#26a69a"/>
<rect x="340" y="207" width="3" height="9" fill="#26a69a"/>
<rect x="345" y="206" width="1" height="31" fill="#ef5350"/>
<rect x="344" y="207" width="3" height="23" fill="#ef5350"/>
<rect x="349" y="214" width="1" height="21" fill="#26a69a"/>
<rect x="348" y="223" width="3" height="7" fill="#26a69a"/>
<rect x="354" y="222" width="1" height="43" fill="#ef5350"/>
<rect x="353" y="223" width="3" height="27" fill="#ef5350"/>
<rect x="358" y="239" width="1" height="13" fill="#26a69a"/>
<rect x="357" y="249" width="3" height="1" fill="#26a69a"/>
<rect x="362" y="235" width="1" height="32" fill="#26a69a"/>
<rect x="361" y="237" width="3" height="12" fill="#26a69a"/>
<rect x="367" y="219" width="1" height="19" fill="#26a69a"/>
<rect x="366" y="232" width="3" height="5" fill="#26a69a"/>
<rect x="371" y="212" width="1" height="26" fill="#26a69a"/>
<rect x="370" y="225" width="3" height="7" fill="#26a69a"/>
<rect x="375" y="193" width="1" height="33" fill="#26a69a"/>
<rect x="374" y="196" width="3" height="29" fill="#26a69a"/>
<rect x="379" y="180" width="1" height="29" fill="#26a69a"/>
<rect x="378" y="192" width="3" height="4" fill="#26a69a"/>
<rect x="384" y="184" width="1" height="47" fill="#ef5350"/>
<rect x="383" y="192" width="3" height="30" fill="#ef5350"/>
<rect x="388" y="219" width="1" height="69" fill="#ef5350"/>
<rect x="387" y="222" width="3" height="16" fill="#ef5350"/>
<rect x="392" y="231" width="1" height="36" fill="#ef5350"/>
<rect x="391" y="238" width="3" height="6" fill="#ef5350"/>
<rect x="396" y="241" width="1" height="34" fill="#ef5350"/>
<rect x="395" y="244" width="3" height="4" fill="#ef5350"/>
<rect x="401" y="232" width="1" height="25" fill="#ef5350"/>
<rect x="400" y="248" width="3" height="5" fill="#ef5350"/>
<rect x="405" y="243" width="1" height="20" fill="#26a69a"/>
<rect x="404" y="246" width="3" height="7" fill="#26a69a"/>
<rect x="409" y="243" width="1" height="28" fill="#ef5350"/>
<rect x="408" y="246" width="3" height="22" fill="#ef5350"/>
<rect x="413" y="261" width="1" height="30" fill="#ef5350"/>
<rect x="412" y="268" width="3" height="23" fill="#ef5350"/>
<rect x="418" y="279" width="1" height="22" fill="#26a69a"/>
<rect x="417" y="282" width="3" height="9" fill="#26a69a"/>
<rect x="422" y="274" width="1" height="16" fill="#26a69a"/>
<rect x="421" y="281" width="3" height="1" fill="#26a69a"/>
<rect x="426" y="281" width="1" height="46" fill="#ef5350"/>
<rect x="425" y="281" width="3" height="33" fill="#ef5350"/>
<rect x="430" y="298" width="1" height="26" fill="#26a69a"/>
<rect x="429" y="302" width="3" height="12" fill="#26a69a"/>
<rect x="435" y="265" width="1" height="45" fill="#26a69a"/>
<rect x="434" y="271" width="3" height="31" fill="#26a69a"/>
<rect x="439" y="254" width="1" height="24" fill="#ef5350"/>
<rect x="438" y="271" width="3" height="3" fill="#ef5350"/>
<rect x="443" y="265" width="1" height="25" fill="#ef5350"/>
<rect x="442" y="274" width="3" height="3" fill="#ef5350"/>
<rect x="448" y="262" width="1" height="22" fill="#26a69a"/>
<rect x="447" y="264" width="3" height="13" fill="#26a69a"/>
<rect x="452" y="254" width="1" height="18" fill="#ef5350"/>
<rect x="451" y="264" width="3" height="6" fill="#ef5350"/>
<rect x="456" y="267" width="1" height="22" fill="#ef5350"/>
<rect x="455" y="270" width="3" height="10" fill="#ef5350"/>
<rect x="460" y="265" width="1" height="19" fill="#26a69a"/>
<rect x="459" y="270" width="3" height="10" fill="#26a69a"/>
<rect x="465" y="257" width="1" height="17" fill="#ef5350"/>
<rect x="464" y="270" width="3" height="3" fill="#ef5350"/>
<rect x="469" y="247" width="1" height="29" fill="#26a69a"/>
<rect x="468" y="253" width="3" height="20" fill="#26a69a"/>
<rect x="473" y="241" width="1" height="21" fill="#26a69a"/>
<rect x="472" y="252" width="3" height="1" fill="#26a69a"/>
<rect x="477" y="245" width="1" height="9" fill="#26a69a"/>
<rect x="476" y="248" width="3" height="4" fill="#26a69a"/>
<rect x="482" y="237" width="1" height="16" fill="#26a69a"/>
<rect x="481" y="241" width="3" height="7" fill="#26a69a"/>
<rect x="486" y="231" width="1" height="15" fill="#ef5350"/>
<rect x="485" y="241" width="3" height="4" fill="#ef5350"/>
<rect x="490" y="244" width="1" height="31" fill="#ef5350"/>
<rect x="489" y="245" width="3" height="29" fill="#ef5350"/>
<rect x="494" y="268" width="1" height="18" fill="#ef5350"/>
<rect x="493" y="274" width="3" height="12" fill="#ef5350"/>
<rect x="499" y="276" width="1" height="13" fill="#26a69a"/>
<rect x="498" y="282" width="3" height="4" fill="#26a69a"/>
<rect x="503" y="273" width="1" height="17" fill="#ef5350"/>
<rect x="502" y="282" width="3" height="4" fill="#ef5350"/>
<rect x="507" y="270" width="1" height="16" fill="#26a69a"/>
<rect x="506" y="270" width="3" height="16" fill="#26a69a"/>
<rect x="511" y="270" width="1" height="8" fill="#ef5350"/>
<rect x="510" y="270" width="3" height="5" fill="#ef5350"/>
<rect x="516" y="274" width="1" height="18" fill="#ef5350"/>
<rect x="515" y="275" width="3" height="12" fill="#ef5350"/>
<rect x="520" y="279" width="1" height="13" fill="#ef5350"/>
<rect x="519" y="287" width="3" height="4" fill="#ef5350"/>
<rect x="524" y="284" width="1" height="49" fill="#ef5350"/>
<rect x="523" y="291" width="3" height="24" fill="#ef5350"/>
<rect x="529" y="314" width="1" height="17" fill="#ef5350"/>
<rect x="528" y="315" width="3" height="9" fill="#ef5350"/>
<rect x="533" y="322" width="1" height="37" fill="#ef5350"/>
<rect x="532" y="324" width="3" height="28" fill="#ef5350"/>
<rect x="537" y="327" width="1" height="32" fill="#26a69a"/>
<rect x="536" y="339" width="3" height="13" fill="#26a69a"/>
<rect x="541" y="332" width="1" height="16" fill="#ef5350"/>
<rect x="540" y="339" width="3" height="4" fill="#ef5350"/>
<rect x="546" y="335" width="1" height="31" fill="#ef5350"/>
<rect x="545" y="343" width="3" height="10" fill="#ef5350"/>
<rect x="550" y="336" width="1" height="21" fill="#26a69a"/>
<rect x="549" y="343" width="3" height="10" fill="#26a69a"/>
<rect x="554" y="316" width="1" height="31" fill="#26a69a"/>
<rect x="553" y="320" width="3" height="23" fill="#26a69a"/>
<rect x="558" y="309" width="1" height="23" fill="#ef5350"/>
<rect x="557" y="320" width="3" height="12" fill="#ef5350"/>
<rect x="563" y="322" width="1" height="18" fill="#26a69a"/>
<rect x="562" y="331" width="3" height="1" fill="#26a69a"/>
<rect x="567" y="324" width="1" height="11" fill="#26a69a"/>
<rect x="566" y="328" width="3" height="3" fill="#26a69a"/>
<rect x="571" y="319" width="1" height="12" fill="#26a69a"/>
<rect x="570" y="327" width="3" height="1" fill="#26a69a"/>
<rect x="575" y="326" width="1" height="24" fill="#ef5350"/>
<rect x="574" y="327" width="3" height="18" fill="#ef5350"/>
<rect x="580" y="338" width="1" height="18" fill="#26a69a"/>
<rect x="579" y="341" width="3" height="4" fill="#26a69a"/>
<rect x="584" y="338" width="1" height="21" fill="#ef5350"/>
<rect x="583" y="341" width="3" height="14" fill="#ef5350"/>
<rect x="588" y="336" width="1" height="39" fill="#ef5350"/>
<rect x="587" y="355" width="3" height="17" fill="#ef5350"/>
<rect x="592" y="368" width="1" height="58" fill="#ef5350"/>
<rect x="591" y="372" width="3" height="38" fill="#ef5350"/>
<rect x="597" y="402" width="1" height="80" fill="#ef5350"/>
<rect x="596" y="410" width="3" height="51" fill="#ef5350"/>
<rect x="601" y="429" width="1" height="35" fill="#26a69a"/>
<rect x="600" y="444" width="3" height="17" fill="#26a69a"/>
<rect x="605" y="444" width="1" height="63" fill="#ef5350"/>
<rect x="604" y="444" width="3" height="25" fill="#ef5350"/>
<rect x="610" y="444" width="1" height="39" fill="#26a69a"/>
<rect x="609" y="460" width="3" height="9" fill="#26a69a"/>
<rect x="614" y="431" width="1" height="46" fill="#ef5350"/>
<rect x="613" y="460" width="3" height="9" fill="#ef5350"/>
<rect x="618" y="460" width="1" height="27" fill="#ef5350"/>
<rect x="617" y="469" width="3" height="8" fill="#ef5350"/>
<rect x="622" y="463" width="1" height="20" fill="#26a69a"/>
<rect x="621" y="470" width="3" height="7" fill="#26a69a"/>
<rect x="627" y="447" width="1" height="25" fill="#26a69a"/>
<rect x="626" y="455" width="3" height="15" fill="#26a69a"/>
<rect x="631" y="451" width="1" height="19" fill="#ef5350"/>
<rect x="630" y="455" width="3" height="10" fill="#ef5350"/>
<rect x="635" y="439" width="1" height="38" fill="#26a69a"/>
<rect x="634" y="445" width="3" height="20" fill="#26a69a"/>
<rect x="639" y="405" width="1" height="41" fill="#26a69a"/>
<rect x="638" y="415" width="3" height="30" fill="#26a69a"/>
<rect x="644" y="409" width="1" height="43" fill="#ef5350"/>
<rect x="643" y="415" width="3" height="24" fill="#ef5350"/>
<rect x="648" y="434" width="1" height="28" fill="#ef5350"/>
<rect x="647" y="439" width="3" height="1" fill="#ef5350"/>
<rect x="652" y="408" width="1" height="35" fill="#26a69a"/>
<rect x="651" y="408" width="3" height="31" fill="#26a69a"/>
<rect x="656" y="393" width="1" height="22" fill="#26a69a"/>
<rect x="655" y="405" width="3" height="3" fill="#26a69a"/>
<rect x="661" y="399" width="1" height="13" fill="#26a69a"/>
<rect x="660" y="401" width="3" height="4" fill="#26a69a"/>
<rect x="665" y="385" width="1" height="23" fill="#26a69a"/>
<rect x="664" y="395" width="3" height="6" fill="#26a69a"/>
<rect x="669" y="388" width="1" height="28" fill="#ef5350"/>
<rect x="668" y="395" width="3" height="12" fill="#ef5350"/>
<rect x="673" y="397" width="1" height="20" fill="#26a69a"/>
<rect x="672" y="405" width="3" height="2" fill="#26a69a"/>
<rect x="678" y="401" width="1" height="26" fill="#ef5350"/>
<rect x="677" y="405" width="3" height="22" fill="#ef5350"/>
<rect x="682" y="420" width="1" height="38" fill="#ef5350"/>
<rect x="681" y="427" width="3" height="28" fill="#ef5350"/>
<rect x="686" y="444" width="1" height="22" fill="#ef5350"/>
<rect x="685" y="455" width="3" height="2" fill="#ef5350"/>
<rect x="691" y="451" width="1" height="19" fill="#ef5350"/>
<rect x="690" y="457" width="3" height="9" fill="#ef5350"/>
<rect x="695" y="449" width="1" height="23" fill="#26a69a"/>
<rect x="694" y="454" width="3" height="12" fill="#26a69a"/>
<rect x="699" y="427" width="1" height="28" fill="#26a69a"/>
<rect x="698" y="427" width="3" height="27" fill="#26a69a"/>
<rect x="703" y="427" width="1" height="22" fill="#ef5350"/>
<rect x="702" y="427" width="3" height="12" fill="#ef5350"/>
<rect x="708" y="435" width="1" height="32" fill="#ef5350"/>
<rect x="707" y="439" width="3" height="25" fill="#ef5350"/>
<rect x="712" y="454" width="1" height="23" fill="#ef5350"/>
<rect x="711" y="464" width="3" height="12" fill="#ef5350"/>
<rect x="716" y="466" width="1" height="13" fill="#26a69a"/>
<rect x="715" y="471" width="3" height="5" fill="#26a69a"/>
<rect x="720" y="460" width="1" height="30" fill="#ef5350"/>
<rect x="719" y="471" width="3" height="2" fill="#ef5350"/>
<rect x="725" y="455" width="1" height="45" fill="#ef5350"/>
<rect x="724" y="473" width="3" height="27" fill="#ef5350"/>
<rect x="729" y="483" width="1" height="23" fill="#26a69a"/>
<rect x="728" y="487" width="3" height="13" fill="#26a69a"/>
<rect x="733" y="464" width="1" height="30" fill="#ef5350"/>
<rect x="732" y="487" width="3" height="7" fill="#ef5350"/>
<rect x="737" y="462" width="1" height="64" fill="#26a69a"/>
<rect x="736" y="477" width="3" height="17" fill="#26a69a"/>
<rect x="742" y="459" width="1" height="26" fill="#26a69a"/>
<rect x="741" y="466" width="3" height="11" fill="#26a69a"/>
<rect x="746" y="457" width="1" height="20" fill="#ef5350"/>
<rect x="745" y="466" width="3" height="9" fill="#ef5350"/>
<rect x="750" y="468" width="1" height="27" fill="#ef5350"/>
<rect x="749" y="475" width="3" height="15" fill="#ef5350"/>
<rect x="754" y="435" width="1" height="60" fill="#26a69a"/>
<rect x="753" y="444" width="3" height="46" fill="#26a69a"/>
<rect x="759" y="437" width="1" height="24" fill="#ef5350"/>
<rect x="758" y="444" width="3" height="4" fill="#ef5350"/>
<rect x="763" y="425" width="1" height="28" fill="#26a69a"/>
<rect x="762" y="441" width="3" height="7" fill="#26a69a"/>
<rect x="767" y="438" width="1" height="24" fill="#ef5350"/>
<rect x="766" y="441" width="3" height="17" fill="#ef5350"/>
<rect x="772" y="456" width="1" height="29" fill="#ef5350"/>
<rect x="771" y="458" width="3" height="23" fill="#ef5350"/>
<rect x="776" y="471" width="1" height="17" fill="#26a69a"/>
<rect x="775" y="476" width="3" height="5" fill="#26a69a"/>
<rect x="780" y="474" width="1" height="21" fill="#ef5350"/>
<rect x="779" y="476" width="3" height="18" fill="#ef5350"/>
<rect x="784" y="486" width="1" height="24" fill="#ef5350"/>
<rect x="783" y="494" width="3" height="11" fill="#ef5350"/>
<rect x="789" y="490" width="1" height="15" fill="#26a69a"/>
<rect x="788" y="501" width="3" height="4" fill="#26a69a"/>
<rect x="793" y="475" width="1" height="27" fill="#26a69a"/>
<rect x="792" y="481" width="3" height="20" fill="#26a69a"/>
<rect x="797" y="479" width="1" height="28" fill="#ef5350"/>
<rect x="796" y="481" width="3" height="19" fill="#ef5350"/>
<rect x="801" y="494" width="1" height="15" fill="#ef5350"/>
<rect x="800" y="500" width="3" height="8" fill="#ef5350"/>
<rect x="806" y="500" width="1" height="8" fill="#26a69a"/>
<rect x="805" y="506" width="3" height="2" fill="#26a69a"/>
<rect x="810" y="497" width="1" height="21" fill="#ef5350"/>
<rect x="809" y="506" width="3" height="9" fill="#ef5350"/>
<rect x="814" y="501" width="1" height="16" fill="#26a69a"/>
<rect x="813" y="506" width="3" height="9" fill="#26a69a"/>
<rect x="818" y="488" width="1" height="26" fill="#26a69a"/>
<rect x="817" y="499" width="3" height="7" fill="#26a69a"/>
<rect x="823" y="481" width="1" height="23" fill="#26a69a"/>
<rect x="822" y="481" width="3" height="18" fill="#26a69a"/>
<rect x="827" y="471" width="1" height="15" fill="#26a69a"/>
<rect x="826" y="481" width="3" height="1" fill="#26a69a"/>
<rect x="831" y="467" width="1" height="27" fill="#26a69a"/>
<rect x="830" y="475" width="3" height="7" fill="#26a69a"/>
<rect x="835" y="460" width="1" height="16" fill="#26a69a"/>
<rect x="834" y="467" width="3" height="8" fill="#26a69a"/>
<rect x="840" y="466" width="1" height="16" fill="#ef5350"/>
<rect x="839" y="467" width="3" height="13" fill="#ef5350"/>
<rect x="844" y="470" width="1" height="16" fill="#ef5350"/>
<rect x="843" y="480" width="3" height="1" fill="#ef5350"/>
<rect x="848" y="462" width="1" height="19" fill="#26a69a"/>
<rect x="847" y="473" width="3" height="7" fill="#26a69a"/>
<rect x="853" y="454" width="1" height="23" fill="#26a69a"/>
<rect x="852" y="459" width="3" height="14" fill="#26a69a"/>
<rect x="857" y="433" width="1" height="31" fill="#26a69a"/>
<rect x="856" y="437" width="3" height="22" fill="#26a69a"/>
<rect x="861" y="429" width="1" height="24" fill="#ef5350"/>
<rect x="860" y="437" width="3" height="12" fill="#ef5350"/>
<rect x="865" y="433" width="1" height="18" fill="#26a69a"/>
<rect x="864" y="438" width="3" height="11" fill="#26a69a"/>
<rect x="870" y="422" width="1" height="25" fill="#26a69a"/>
<rect x="869" y="423" width="3" height="15" fill="#26a69a"/>
<rect x="874" y="405" width="1" height="23" fill="#ef5350"/>
<rect x="873" y="423" width="3" height="5" fill="#ef5350"/>
<rect x="878" y="400" width="1" height="28" fill="#26a69a"/>
<rect x="877" y="411" width="3" height="17" fill="#26a69a"/>
<rect x="882" y="389" width="1" height="34" fill="#26a69a"/>
<rect x="881" y="393" width="3" height="19" fill="#26a69a"/>
</g>
<text x="1313.4" y="103.5" font-size="14.6" fill="#b2b5be" color="#b2b5be">320.00</text>
<text x="1313.4" y="143.5" font-size="14.6" fill="#b2b5be" color="#b2b5be">280.00</text>
<text x="1313.4" y="189.5" font-size="14.6" fill="#b2b5be" color="#b2b5be">240.00</text>
<text x="1313.4" y="243.5" font-size="14.6" fill="#b2b5be" color="#b2b5be">200.00</text>
<text x="1313.4" y="291.5" font-size="14.6" fill="#b2b5be" color="#b2b5be">170.00</text>
<text x="1313.4" y="349.5" font-size="14.6" fill="#b2b5be" color="#b2b5be">140.00</text>
<text x="1313.4" y="434.5" font-size="14.6" fill="#b2b5be" color="#b2b5be">105.00</text>
<text x="1313.4" y="483.5" font-size="14.6" fill="#b2b5be" color="#b2b5be">89.00</text>
<text x="1313.4" y="567.5" font-size="14.6" fill="#b2b5be" color="#b2b5be">67.00</text>
<text x="1313.4" y="605.5" font-size="14.6" fill="#b2b5be" color="#b2b5be">59.00</text>
<text x="1313.4" y="692.5" font-size="14.6" fill="#b2b5be" color="#b2b5be">44.00</text>
<text x="1313.4" y="732.5" font-size="14.6" fill="#b2b5be" color="#b2b5be">38.50</text>
<text x="1313.4" y="52.8" font-size="14.6" fill="#b2b5be" color="#b2b5be">380.00</text>
<rect x="1321.5" y="42.5" width="43" height="22" rx="5" fill="#181c27" stroke="#363a45" stroke-width="1"/>
<text x="1325.33" y="58.30" textLength="34.70" lengthAdjust="spacingAndGlyphs" font-size="14.6" fill="#b2b5be" color="#b2b5be">USDT</text>
<path d="M1300 151 h63 a2 2 0 0 1 2 2 v17 a2 2 0 0 1 -2 2 h-63z" fill="#ffffff"/>
<text x="1313.90" y="167.10" textLength="43.01" lengthAdjust="spacingAndGlyphs" font-size="14.6" fill="#131722" color="#131722">258.79</text>
<path d="M1300 361 h63 a2 2 0 0 1 2 2 v17 a2 2 0 0 1 -2 2 h-63z" fill="#ffffff"/>
<text x="1313.22" y="376.80" textLength="42.49" lengthAdjust="spacingAndGlyphs" font-size="14.6" fill="#131722" color="#131722">120.11</text>
<path d="M1300 497 h56 a2 2 0 0 1 2 2 v17 a2 2 0 0 1 -2 2 h-56z" fill="#ffffff"/>
<text x="1313.90" y="512.90" textLength="35.21" lengthAdjust="spacingAndGlyphs" font-size="14.6" fill="#131722" color="#131722">80.80</text>
<path d="M1300 518 h56 a2 2 0 0 1 2 2 v17 a2 2 0 0 1 -2 2 h-56z" fill="#ffffff"/>
<text x="1314.40" y="533.80" textLength="34.71" lengthAdjust="spacingAndGlyphs" font-size="14.6" fill="#131722" color="#131722">77.67</text>
<path d="M1300 636 h56 a2 2 0 0 1 2 2 v17 a2 2 0 0 1 -2 2 h-56z" fill="#ffffff"/>
<text x="1314.20" y="652.00" textLength="34.91" lengthAdjust="spacingAndGlyphs" font-size="14.6" fill="#131722" color="#131722">50.50</text>
<path d="M1300 383 h77 a2 2 0 0 1 2 2 v35 a2 2 0 0 1 -2 2 h-77z" fill="#26a69a"/>
<text x="1313.18" y="398.90" textLength="44.23" lengthAdjust="spacingAndGlyphs" font-size="14.6" fill="#ffffff" color="#ffffff">118.69</text>
<text x="1313.20" y="416.70" textLength="57.12" lengthAdjust="spacingAndGlyphs" font-size="14.6" fill="#e6f4f3" color="#e6f4f3">09:01:33</text>
<text x="115.5" y="764" font-size="14" fill="#b2b5be" color="#b2b5be" text-anchor="middle">Eki</text>
<text x="247.5" y="764" font-size="14" fill="#b2b5be" color="#b2b5be" text-anchor="middle">Kas</text>
<text x="375.5" y="764" font-size="14" fill="#b2b5be" color="#b2b5be" text-anchor="middle">Ara</text>
<text x="507.5" y="764" font-size="14" fill="#b2b5be" color="#b2b5be" text-anchor="middle" font-weight="bold">2022</text>
<text x="639.5" y="764" font-size="14" fill="#b2b5be" color="#b2b5be" text-anchor="middle">Şub</text>
<text x="759.5" y="764" font-size="14" fill="#b2b5be" color="#b2b5be" text-anchor="middle">Mar</text>
<text x="891.5" y="764" font-size="14" fill="#b2b5be" color="#b2b5be" text-anchor="middle">Nis</text>
<text x="1019.5" y="764" font-size="14" fill="#b2b5be" color="#b2b5be" text-anchor="middle">May</text>
<text x="1151.5" y="764" font-size="14" fill="#b2b5be" color="#b2b5be" text-anchor="middle">Haz</text>
<text x="1279.5" y="764" font-size="14" fill="#b2b5be" color="#b2b5be" text-anchor="middle">Tem</text>
<text x="23.60" y="59.20" textLength="196.64" lengthAdjust="spacingAndGlyphs" font-size="14.8" fill="#b2b5be" color="#b2b5be">SOL / TetherUS, 1G, BINANCE</text>
<text x="230.10" y="59.20" textLength="8.22" lengthAdjust="spacingAndGlyphs" font-size="14.8" fill="#b2b5be" color="#b2b5be">A</text>
<text x="292.50" y="59.20" textLength="9.52" lengthAdjust="spacingAndGlyphs" font-size="14.8" fill="#b2b5be" color="#b2b5be">Y</text>
<text x="354.66" y="59.20" textLength="9.55" lengthAdjust="spacingAndGlyphs" font-size="14.8" fill="#b2b5be" color="#b2b5be">D</text>
<text x="418.13" y="59.20" textLength="8.09" lengthAdjust="spacingAndGlyphs" font-size="14.8" fill="#b2b5be" color="#b2b5be">K</text>
<text x="238.63" y="59.20" textLength="43.74" lengthAdjust="spacingAndGlyphs" font-size="14.8" fill="#26a69a" color="#26a69a">111.62</text>
<text x="302.39" y="59.20" textLength="42.19" lengthAdjust="spacingAndGlyphs" font-size="14.8" fill="#26a69a" color="#26a69a">119.97</text>
<text x="363.88" y="59.20" textLength="42.60" lengthAdjust="spacingAndGlyphs" font-size="14.8" fill="#26a69a" color="#26a69a">107.11</text>
<text x="426.56" y="59.20" textLength="43.62" lengthAdjust="spacingAndGlyphs" font-size="14.8" fill="#26a69a" color="#26a69a">118.69</text>
<text x="481.20" y="59.20" textLength="97.57" lengthAdjust="spacingAndGlyphs" font-size="14.8" fill="#26a69a" color="#26a69a">+7.07 (+6.33%)</text>
<text x="22.53" y="79.80" textLength="42.38" lengthAdjust="spacingAndGlyphs" font-size="14.6" fill="#b2b5be" color="#b2b5be">Hacim</text>
<text x="74.90" y="79.80" textLength="47.07" lengthAdjust="spacingAndGlyphs" font-size="14.6" fill="#26a69a" color="#26a69a">2.818M</text>
<text x="13.40" y="24.90" textLength="499.36" lengthAdjust="spacingAndGlyphs" font-size="15.5" fill="#d1d4dc" color="#d1d4dc">AnlTufan TradingView.com, Mar 30, 2022 17:58 UTC+3 tarihinde yayınlandı</text>
<g fill="#d1d4dc"><path d="M13 792h9.8v12h-5v-7.5H13z"/><circle cx="26.8" cy="794.3" r="2.6"/><path d="M32.4 792h4.9l-4.5 12h-5.7z"/></g>
<text x="42.30" y="804.00" textLength="86.12" lengthAdjust="spacingAndGlyphs" font-size="15.3" fill="#d1d4dc" color="#d1d4dc">TradingView</text>
</svg></body></html>
